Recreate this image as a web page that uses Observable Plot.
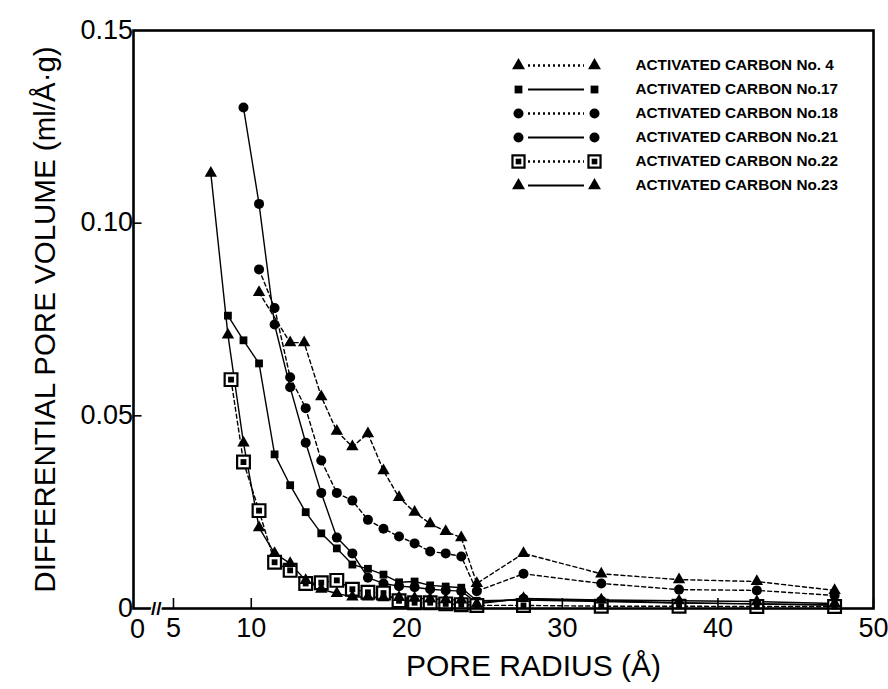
<!DOCTYPE html>
<html><head><meta charset="utf-8">
<script src="https://cdn.jsdelivr.net/npm/d3@7"></script>
<script src="https://cdn.jsdelivr.net/npm/@observablehq/plot@0.6"></script>
<style>
body{margin:0;background:#fff;font-family:"Liberation Sans",Arial,sans-serif}
#wrap{position:relative;width:888px;height:689px}
#legend{position:absolute;left:500px;top:45px}
</style></head><body><div id="wrap"></div>
<script>
// ---- data (pore radius in Å, differential pore volume in ml/Å·g) ----
const x4  = [10.5, 12.5, 13.4, 14.5, 15.5, 16.5, 17.5, 18.5, 19.5, 20.5, 21.5, 22.5, 23.5, 24.5, 27.5, 32.5, 37.5, 42.5, 47.5];
const y4  = [0.082, 0.069, 0.069, 0.055, 0.046, 0.042, 0.0454, 0.0358, 0.0288, 0.025, 0.022, 0.020, 0.0184, 0.0065, 0.0143, 0.009, 0.0075, 0.007, 0.0047];
const x17 = [8.5, 9.5, 10.5, 11.5, 12.5, 13.5, 14.5, 15.5, 16.5, 17.5, 18.5, 19.5, 20.5, 21.5, 22.5, 23.5, 24.5, 27.5, 32.5, 37.5, 42.5, 47.5];
const y17 = [0.076, 0.0696, 0.0636, 0.040, 0.032, 0.025, 0.0195, 0.0156, 0.0114, 0.0103, 0.0088, 0.0068, 0.007, 0.006, 0.0057, 0.0054, 0.002, 0.0022, 0.0018, 0.0014, 0.0012, 0.0008];
const x18 = [10.5, 11.5, 12.5, 13.5, 14.5, 15.5, 16.5, 17.5, 18.5, 19.5, 20.5, 21.5, 22.5, 23.5, 24.5, 27.5, 32.5, 37.5, 42.5, 47.5];
const y18 = [0.088, 0.078, 0.060, 0.052, 0.0384, 0.030, 0.028, 0.023, 0.0207, 0.0187, 0.0169, 0.0148, 0.0143, 0.0135, 0.0045, 0.009, 0.0065, 0.0049, 0.0047, 0.0034];
const x21 = [9.5, 10.5, 11.5, 12.5, 13.5, 14.5, 15.5, 16.5, 17.5, 18.5, 19.5, 20.5, 21.5, 22.5, 23.5, 24.5, 27.5, 32.5, 37.5, 42.5, 47.5];
const y21 = [0.130, 0.105, 0.0737, 0.0574, 0.043, 0.030, 0.0184, 0.0143, 0.008, 0.0065, 0.0058, 0.0055, 0.005, 0.0047, 0.0045, 0.0015, 0.0025, 0.002, 0.0015, 0.0012, 0.001];
const x22 = [8.7, 9.5, 10.5, 11.5, 12.5, 13.5, 14.5, 15.5, 16.5, 17.5, 18.5, 19.5, 20.5, 21.5, 22.5, 23.5, 24.5, 27.5, 32.5, 37.5, 42.5, 47.5];
const y22 = [0.0594, 0.038, 0.0254, 0.012, 0.0099, 0.0065, 0.0067, 0.0073, 0.005, 0.0042, 0.004, 0.002, 0.0015, 0.0015, 0.0012, 0.001, 0.0008, 0.0008, 0.0006, 0.0006, 0.0005, 0.0005];
const x23 = [7.4, 8.5, 9.5, 10.5, 11.5, 12.5, 13.5, 14.5, 15.5, 16.5, 17.5, 18.5, 19.5, 20.5, 21.5, 22.5, 23.5, 24.5, 27.5, 32.5, 37.5, 42.5, 47.5];
const y23 = [0.113, 0.071, 0.043, 0.021, 0.0143, 0.0117, 0.0073, 0.005, 0.0039, 0.003, 0.003, 0.0028, 0.0029, 0.0027, 0.0025, 0.0023, 0.0022, 0.0012, 0.0026, 0.0022, 0.002, 0.0018, 0.0013];

const seriesNames = ["ACTIVATED CARBON No. 4", "ACTIVATED CARBON No.17", "ACTIVATED CARBON No.18",
                     "ACTIVATED CARBON No.21", "ACTIVATED CARBON No.22", "ACTIVATED CARBON No.23"];
const seriesSymbols = ["triangle", "square", "circle", "circle", "boxed", "triangle"];
const seriesDotted = [true, false, true, false, true, false];
// broken axis: the left edge of the frame stands for "0", the scale is linear from 5 upward
const xBreakValue = 2.43;
const xTicks = [5, 10, 20, 30, 40, 50];
const xTickLabels = ["5", "10", "20", "30", "40", "50"];
const xZeroLabel = "0";
const yTicks = [0.05, 0.10];
const yTickLabels = [0, 0.05, 0.10, 0.15];
const xTitle = "PORE RADIUS (Å)";
const yTitle = "DIFFERENTIAL PORE VOLUME (ml/Å·g)";

const xs = [x4, x17, x18, x21, x22, x23];
const ys = [y4, y17, y18, y21, y22, y23];
const series = seriesNames.map((name, i) => ({
  name, sym: seriesSymbols[i], dotted: seriesDotted[i],
  rows: xs[i].map((x, j) => ({x, y: ys[i][j], name}))
}));

const LW = 1.4, DASH = "4,3";
const marks = [];
for (const s of series) {
  marks.push(Plot.line(s.rows, {x: "x", y: "y", stroke: "black", strokeWidth: LW,
    strokeDasharray: s.dotted ? DASH : null}));
}
for (const s of series) {
  if (s.sym === "boxed") {
    marks.push(Plot.dot(s.rows, {x: "x", y: "y", symbol: "square", r: 7.2, fill: "white", stroke: "black", strokeWidth: 2.2}));
    marks.push(Plot.dot(s.rows, {x: "x", y: "y", symbol: "square", r: 3.3, fill: "black"}));
  } else {
    const r = s.sym === "circle" ? 5 : s.sym === "square" ? 4.4 : 4.6;
    marks.push(Plot.dot(s.rows, {x: "x", y: "y", symbol: s.sym, r, fill: "black"}));
  }
}

const FS = 27;
const main = Plot.plot({
  width: 888, height: 689,
  marginLeft: 133, marginRight: 15, marginTop: 30, marginBottom: 81,
  style: {fontFamily: "Liberation Sans, Arial, sans-serif", color: "black", background: "white"},
  x: {type: "linear", domain: [xBreakValue, 50], axis: null},
  y: {domain: [0, 0.15], axis: null},
  marks: [
    ...marks,
    Plot.frame({stroke: "black", strokeWidth: 2.6}),
    Plot.ruleX(xTicks, {x: d => d, y1: 0, y2: 0.0026, stroke: "black", strokeWidth: 1.6}),
    Plot.ruleY(yTicks, {y: d => d, x1: xBreakValue, x2: xBreakValue + 0.55, stroke: "black", strokeWidth: 1.6}),
    // axis break marks
    Plot.text(["//"], {x: 3.9, y: 0, text: d => d, fontSize: 19, fontWeight: "bold", fill: "black",
      stroke: "white", strokeWidth: 3, paintOrder: "stroke"}),
    // tick labels
    Plot.text(xTicks, {x: d => d, y: 0, text: (d, i) => xTickLabels[i], dy: 20, fontSize: FS, lineAnchor: "middle", fill: "black"}),
    Plot.text([xZeroLabel], {x: xBreakValue, y: 0, text: d => d, dx: 4, dy: 21, fontSize: FS, lineAnchor: "middle", fill: "black"}),
    Plot.text(yTickLabels, {x: xBreakValue, y: d => d, text: d => d === 0 ? "0" : d.toFixed(2),
      dx: d => d === 0 ? -12 : -9, dy: d => d === 0 ? -6 : 0,
      textAnchor: "end", fontSize: FS, lineAnchor: "middle", fill: "black"}),
    // axis titles
    Plot.text([xTitle], {frameAnchor: "bottom", text: d => d, dx: 30, dy: 58, fontSize: 30, textAnchor: "middle", lineAnchor: "middle", fill: "black"}),
    Plot.text([yTitle], {frameAnchor: "left", text: d => d, rotate: -90, dx: -88, fontSize: 29.5, textAnchor: "middle", lineAnchor: "middle", fill: "black"})
  ]
});

// legend (own scales, overlaid inside the frame)
const legendRows = series.map(s => ({name: s.name, sym: s.sym, dotted: s.dotted}));
const legendMarks = [
  Plot.ruleY(legendRows.filter(d => d.dotted), {y: "name", x1: 0, x2: 1, insetLeft: 10, insetRight: 10,
    stroke: "black", strokeWidth: 2.4, strokeDasharray: "2,3"}),
  Plot.ruleY(legendRows.filter(d => !d.dotted), {y: "name", x1: 0, x2: 1, insetLeft: 10, insetRight: 10,
    stroke: "black", strokeWidth: 2})
];
for (const end of [0, 1]) {
  for (const sym of ["triangle", "square", "circle"]) {
    const r = sym === "circle" ? 5 : sym === "square" ? 4.4 : 4.8;
    legendMarks.push(Plot.dot(legendRows.filter(d => d.sym === sym), {x: () => end, y: "name", symbol: sym, r, fill: "black"}));
  }
  legendMarks.push(Plot.dot(legendRows.filter(d => d.sym === "boxed"), {x: () => end, y: "name", symbol: "square", r: 6.8, fill: "white", stroke: "black", strokeWidth: 2.2}));
  legendMarks.push(Plot.dot(legendRows.filter(d => d.sym === "boxed"), {x: () => end, y: "name", symbol: "square", r: 3.2, fill: "black"}));
}
legendMarks.push(Plot.text(legendRows, {x: () => 1, y: "name", text: "name", dx: 41, textAnchor: "start",
  fontSize: 15.3, fontWeight: "bold", fill: "black"}));

const legend = Plot.plot({
  width: 345, height: 150, margin: 0,
  style: {fontFamily: "Liberation Sans, Arial, sans-serif", background: "transparent", overflow: "visible"},
  x: {domain: [0, 1], range: [18, 94], axis: null},
  y: {type: "point", domain: seriesNames, range: [19, 141], padding: 0, axis: null},
  marks: legendMarks
});
legend.id = "legend";

const wrap = document.getElementById("wrap");
wrap.appendChild(main);
wrap.appendChild(legend);
</script></body></html>
